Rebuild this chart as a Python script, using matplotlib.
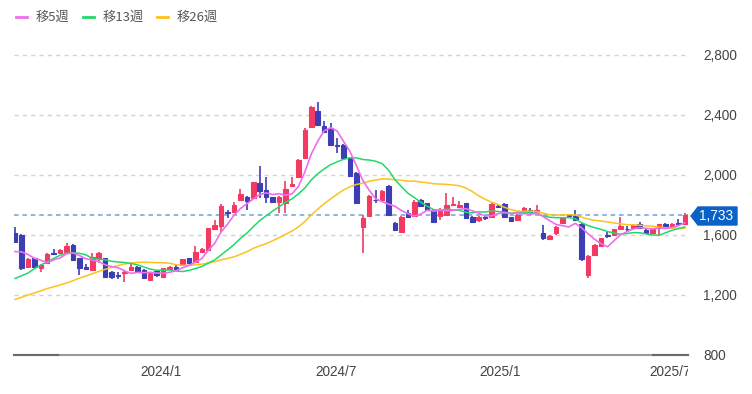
import numpy as np
import pandas as pd
import matplotlib
matplotlib.use('agg')
import matplotlib.pyplot as plt
from matplotlib.lines import Line2D
from matplotlib.patches import Polygon
from matplotlib.transforms import Bbox

# weekly candles, oldest first
opens = [1611, 1600, 1385, 1444, 1378, 1411, 1482, 1478, 1489, 1535,
         1444, 1389, 1367, 1444, 1444, 1356, 1335, 1344, 1367, 1389,
         1367, 1300, 1362, 1322, 1371, 1389, 1400, 1444, 1422, 1489,
         1500, 1640, 1660, 1755, 1751, 1833, 1856, 1844, 1944, 1900,
         1851, 1822, 1816, 1927, 1989, 2111, 2318, 2426, 2329, 2311,
         2202, 2200, 2111, 2016, 1656, 1730, 1836, 1836, 1927, 1680,
         1622, 1749, 1727, 1833, 1811, 1767, 1730, 1733, 1800, 1789,
         1811, 1722, 1700, 1722, 1718, 1793, 1807, 1718, 1700, 1756,
         1767, 1756, 1611, 1573, 1611, 1678, 1731, 1729, 1675, 1333,
         1467, 1529, 1600, 1600, 1638, 1642, 1645, 1675, 1633, 1611,
         1645, 1675, 1655, 1680, 1672]
highs = [1656, 1605, 1445, 1450, 1405, 1478, 1504, 1506, 1546, 1540,
         1450, 1407, 1480, 1489, 1448, 1360, 1352, 1360, 1411, 1393,
         1371, 1348, 1366, 1382, 1393, 1400, 1440, 1448, 1525, 1511,
         1648, 1700, 1808, 1767, 1822, 1904, 1860, 1955, 2060, 1989,
         1855, 1859, 1962, 1990, 2104, 2315, 2459, 2485, 2360, 2345,
         2244, 2204, 2115, 2020, 1733, 1864, 1900, 1900, 1931, 1684,
         1726, 1767, 1833, 1837, 1815, 1771, 1780, 1878, 1851, 1829,
         1815, 1726, 1726, 1726, 1811, 1797, 1811, 1722, 1737, 1786,
         1778, 1800, 1667, 1600, 1660, 1715, 1740, 1767, 1679, 1470,
         1537, 1582, 1622, 1642, 1722, 1660, 1674, 1684, 1637, 1642,
         1675, 1679, 1679, 1704, 1745]
lows = [1550, 1370, 1380, 1385, 1356, 1405, 1467, 1475, 1485, 1428,
        1333, 1365, 1360, 1411, 1318, 1310, 1305, 1289, 1362, 1352,
        1305, 1295, 1320, 1318, 1367, 1362, 1396, 1405, 1418, 1485,
        1496, 1636, 1622, 1711, 1747, 1829, 1767, 1840, 1844, 1811,
        1814, 1744, 1744, 1923, 1985, 2107, 2314, 2325, 2285, 2196,
        2150, 2107, 1989, 1811, 1478, 1726, 1811, 1832, 1729, 1625,
        1618, 1718, 1723, 1789, 1763, 1678, 1700, 1729, 1796, 1785,
        1705, 1685, 1689, 1700, 1714, 1780, 1714, 1692, 1696, 1752,
        1752, 1752, 1567, 1569, 1600, 1674, 1722, 1696, 1430, 1311,
        1463, 1525, 1578, 1596, 1634, 1620, 1641, 1641, 1607, 1607,
        1600, 1651, 1651, 1668, 1668]
closes = [1556, 1378, 1438, 1389, 1400, 1471, 1476, 1500, 1527, 1433,
          1378, 1371, 1456, 1478, 1322, 1322, 1330, 1356, 1389, 1356,
          1311, 1344, 1333, 1378, 1389, 1367, 1438, 1411, 1489, 1507,
          1644, 1667, 1793, 1750, 1800, 1871, 1829, 1951, 1896, 1856,
          1818, 1855, 1904, 1938, 2100, 2300, 2455, 2331, 2289, 2200,
          2196, 2111, 1993, 1814, 1711, 1860, 1831, 1896, 1733, 1636,
          1722, 1722, 1822, 1793, 1767, 1689, 1760, 1800, 1806, 1800,
          1711, 1689, 1722, 1711, 1807, 1784, 1718, 1696, 1733, 1782,
          1756, 1767, 1578, 1596, 1656, 1711, 1727, 1700, 1440, 1460,
          1533, 1578, 1596, 1638, 1658, 1638, 1670, 1645, 1611, 1638,
          1671, 1655, 1675, 1672, 1733]

# averages before the first visible week come from older data
ma5_lead = [1490, 1488, 1470, 1445]
ma13_lead = [1310, 1328, 1346, 1375, 1400, 1420, 1444, 1465, 1478, 1481, 1478, 1468]
ma26_lead = [1170, 1185, 1200, 1213, 1228, 1243, 1255, 1267, 1280, 1295,
             1312, 1327, 1342, 1357, 1371, 1385, 1397, 1407, 1413, 1417,
             1418, 1417, 1416, 1415, 1412]

tick_pos = [22.7, 49.8, 75.3, 101.8]
tick_labels = ['2024/1', '2024/7', '2025/1', '2025/7']
y_ticks = [800, 1200, 1600, 2000, 2400, 2800]
last_price = 1733

up_col = '#f23a63'
down_col = '#3c3fb4'
ma_cols = ['#ee6eee', '#22d86c', '#fcc21c']
ma_names = ['移5週', '移13週', '移26週']

df = pd.DataFrame({'o': opens, 'h': highs, 'l': lows, 'c': closes})
x = np.arange(len(df))
ma5 = df['c'].rolling(5).mean().values
ma13 = df['c'].rolling(13).mean().values
ma26 = df['c'].rolling(26).mean().values
ma5[:len(ma5_lead)] = ma5_lead
ma13[:len(ma13_lead)] = ma13_lead
ma26[:len(ma26_lead)] = ma26_lead

W, H = 752, 394
fig = plt.figure(figsize=(7.52, 3.94), dpi=100, facecolor='white')
ax = fig.add_axes([14 / W, (H - 355) / H, (688 - 14) / W, (355 - 40) / H])
ax.set_xlim(-0.155, 104.5)
ax.set_ylim(800, 2900)

for yv in y_ticks[1:]:
    ax.axhline(yv, color='#d2d2d2', lw=1, ls=(0, (3, 3)), zorder=0)
ax.axhline(last_price, color='#6ea2dc', lw=1.1, ls=(0, (3, 2.5)), zorder=1)

up = df['c'] >= df['o']
cols = np.where(up, up_col, down_col)
ax.vlines(x, df['l'], df['h'], colors=cols, lw=1.2, zorder=2)
body_lo = np.minimum(df['o'], df['c'])
body_h = np.abs(df['c'] - df['o'])
ax.bar(x, body_h, bottom=body_lo, width=0.7, color=cols, edgecolor=cols,
       linewidth=0.8, zorder=3)

ax.plot(x, ma26, color=ma_cols[2], lw=1.1, zorder=4)
ax.plot(x, ma13, color=ma_cols[1], lw=1.1, zorder=4)
ax.plot(x, ma5, color=ma_cols[0], lw=1.2, zorder=4)

for s in ['top', 'left', 'right']:
    ax.spines[s].set_visible(False)
ax.spines['bottom'].set_color('#9a9a9a')
ax.spines['bottom'].set_linewidth(1.5)
# darker ends of the bottom bar
for a, b in [(14, 58), (653, 688)]:
    fig.add_artist(Line2D([a / W, b / W], [1 - 355 / H, 1 - 355 / H],
                          color='#6a6a6a', lw=1.5, transform=fig.transFigure))

ax.yaxis.tick_right()
ax.set_yticks(y_ticks)
ax.set_yticklabels([f'{v:,}' for v in y_ticks], fontsize=9.8, color='#444444',
                   family='Liberation Sans', ha='left')
ax.tick_params(axis='y', length=0, pad=11)
ax.set_xticks([])

# month labels; the last one is cut at the plot's right edge
clip = Bbox.from_extents(0, 0, 688, H)
for p, t in zip(tick_pos, tick_labels):
    xf = (14 + (p + 0.155) * 674 / 104.655) / W
    txt = fig.text(xf, 1 - 372 / H, t, fontsize=9.8, color='#444444',
                   family='Liberation Sans', ha='center', va='center')
    txt.set_clip_box(clip)
    txt.set_clip_on(True)

# price tag on the right
tag = [(691, 216), (698, 207), (737, 207), (737, 225), (698, 225)]
fig.add_artist(Polygon([(px / W, 1 - py / H) for px, py in tag],
                       closed=True, color='#0b62c6', transform=fig.transFigure))
fig.text(716 / W, 1 - 216 / H, f'{last_price:,}', color='white', fontsize=9.8,
         family='Liberation Sans', ha='center', va='center')

# legend row
lx = [16, 83, 157]
for i in range(3):
    fig.add_artist(Line2D([lx[i] / W, (lx[i] + 11) / W], [1 - 17 / H, 1 - 17 / H],
                          color=ma_cols[i], lw=2, transform=fig.transFigure))
    fig.text((lx[i] + 20) / W, 1 - 17 / H, ma_names[i], fontsize=9.5,
             color='#555555', family='Noto Sans CJK JP', va='center')

plt.savefig('out.png', dpi=100)
